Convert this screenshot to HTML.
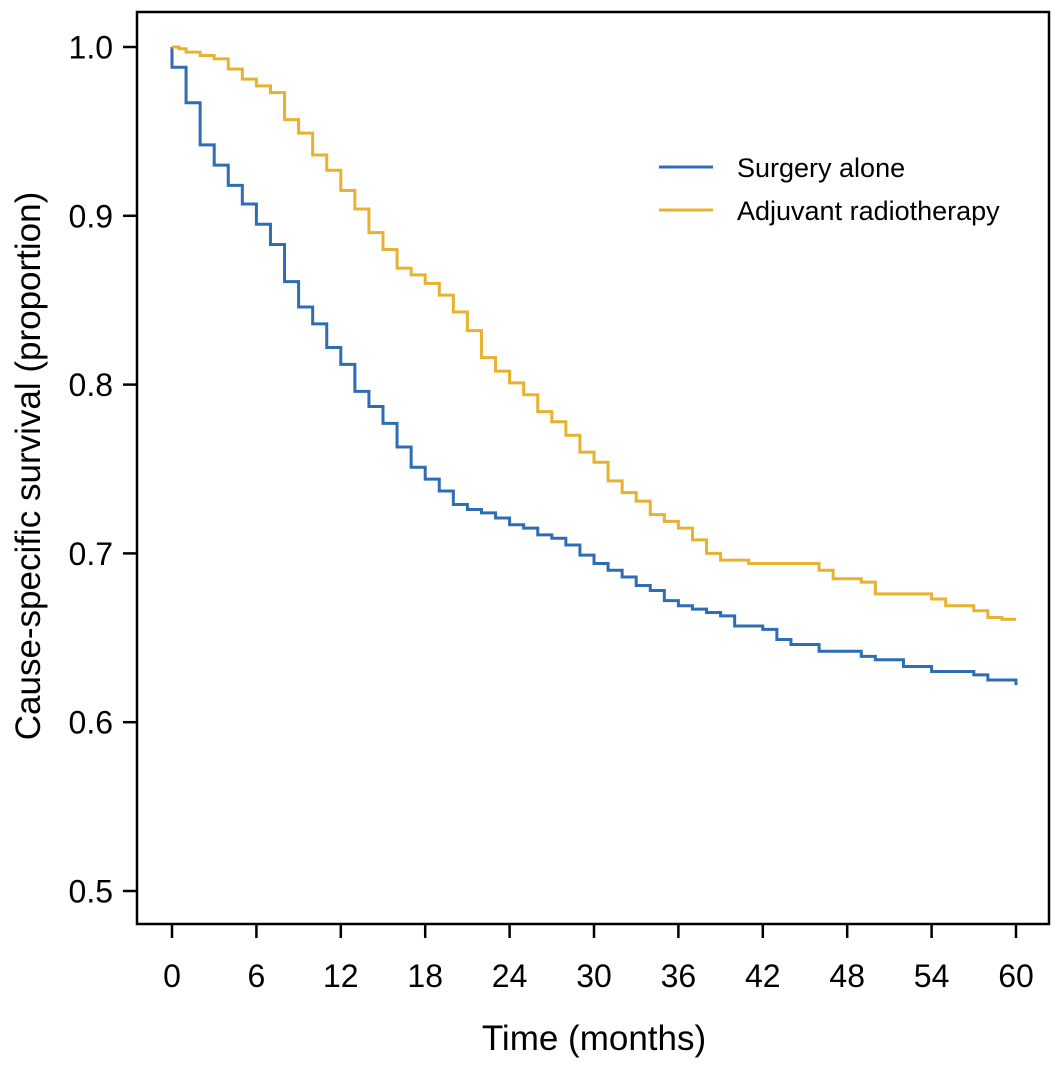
<!DOCTYPE html>
<html><head><meta charset="utf-8"><style>
html,body{margin:0;padding:0;background:#fff}
svg{display:block;font-family:"Liberation Sans",Arial,sans-serif}
</style></head><body>
<svg id="chart" width="1063" height="1069">
<rect x="137" y="12" width="912" height="912" fill="none" stroke="#000" stroke-width="2.5"/>
<g id="yaxis"></g>
<g id="xaxis"></g>
<g id="series"></g>
<text x="40" y="466" font-size="35" text-anchor="middle" transform="rotate(-90 40 466)">Cause-specific survival (proportion)</text>
<text x="594" y="1050" font-size="35" text-anchor="middle">Time (months)</text>
<g>
<line x1="659" y1="167" x2="713" y2="167" stroke="#2e6db4" stroke-width="3"/>
<text x="737" y="177" font-size="27">Surgery alone</text>
<line x1="659" y1="210" x2="713" y2="210" stroke="#e8b12f" stroke-width="3"/>
<text x="737" y="220" font-size="27">Adjuvant radiotherapy</text>
</g>
</svg>
<script>
const yTicks=[0.5,0.6,0.7,0.8,0.9,1.0];
const yTickLabels=["0.5","0.6","0.7","0.8","0.9","1.0"];
const xTicks=[0,6,12,18,24,30,36,42,48,54,60];
const surgeryTimes=[0,1,2,3,4,5,6,7,8,9,10,11,12,13,14,15,16,17,18,19,20,21,22,23,24,25,26,27,28,29,30,31,32,33,34,35,36,37,38,39,40,42,43,44,46,49,50,52,54,57,58,60];
const surgerySurv=[0.988,0.967,0.942,0.930,0.918,0.907,0.895,0.883,0.861,0.846,0.836,0.822,0.812,0.796,0.787,0.777,0.763,0.751,0.744,0.737,0.729,0.726,0.724,0.721,0.717,0.715,0.711,0.709,0.705,0.699,0.694,0.690,0.686,0.681,0.678,0.672,0.669,0.667,0.665,0.663,0.657,0.655,0.649,0.646,0.642,0.639,0.637,0.633,0.630,0.628,0.625,0.622];
const radioTimes=[0,0.5,1,2,3,4,5,6,7,8,9,10,11,12,13,14,15,16,17,18,19,20,21,22,23,24,25,26,27,28,29,30,31,32,33,34,35,36,37,38,39,41,46,47,49,50,54,55,57,58,59];
const radioSurv=[1.0,0.999,0.997,0.995,0.993,0.987,0.981,0.977,0.973,0.957,0.949,0.936,0.927,0.915,0.904,0.890,0.880,0.869,0.865,0.860,0.853,0.843,0.832,0.816,0.808,0.801,0.794,0.784,0.778,0.770,0.760,0.754,0.743,0.736,0.731,0.723,0.719,0.715,0.708,0.700,0.696,0.694,0.690,0.685,0.683,0.676,0.673,0.669,0.666,0.662,0.661];
const NS="http://www.w3.org/2000/svg";
const xs=t=>172+(1016-172)*t/60;
const ys=v=>891-(891-47)*(v-0.5)/0.5;
const ya=document.getElementById('yaxis'),xa=document.getElementById('xaxis'),sg=document.getElementById('series');
function mk(tag,attrs,parent){const e=document.createElementNS(NS,tag);for(const k in attrs)e.setAttribute(k,attrs[k]);parent.appendChild(e);return e;}
yTicks.forEach((v,i)=>{
 const l=mk('line',{x1:123,x2:137,y1:ys(v),y2:ys(v),stroke:'#000','stroke-width':2.5},ya);
 
 
 const t=mk('text',{x:113,y:ys(v)+11.5,'font-size':32,'text-anchor':'end'},ya);
 t.textContent=yTickLabels[i];
 
 
});
xTicks.forEach(v=>{
 const l=mk('line',{x1:xs(v),x2:xs(v),y1:924,y2:938,stroke:'#000','stroke-width':2.5},xa);
 
 
 const t=mk('text',{x:xs(v),y:987,'font-size':32,'text-anchor':'middle'},xa);
 t.textContent=String(v);
 
 
});
function stepPath(times,surv){
 let d='M'+xs(0)+','+ys(1.0);
 for(let i=0;i<times.length;i++){d+=' H'+xs(times[i])+' V'+ys(surv[i]);}
 d+=' H'+xs(60);
 return d;
}
const p1=mk('path',{d:stepPath(surgeryTimes,surgerySurv),fill:'none',stroke:'#2e6db4','stroke-width':3},sg);


const p2=mk('path',{d:stepPath(radioTimes,radioSurv),fill:'none',stroke:'#e8b12f','stroke-width':3},sg);


</script>
</body></html>
